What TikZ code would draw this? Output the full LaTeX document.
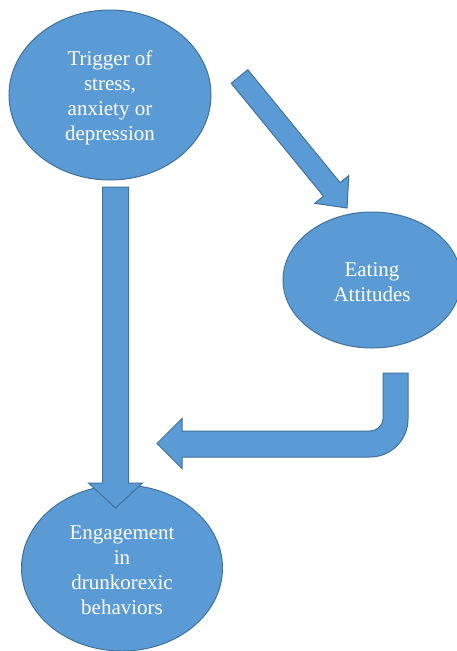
\documentclass[tikz,border=0pt]{standalone}
\usepackage{fontspec}
\setmainfont{Liberation Serif}
\usetikzlibrary{shapes.geometric,calc}
\definecolor{boxfill}{HTML}{5B9BD5}
\definecolor{boxline}{HTML}{41719C}
\tikzset{
  bubble/.style={ellipse, fill=boxfill, draw=boxline, line width=1pt, inner sep=0pt},
  bubbletext/.style={text=white, align=center, inner sep=0pt, yshift=-2.5pt,
    font=\fontsize{21}{25}\selectfont},
  blockarr/.style={fill=boxfill, draw=boxline, line width=1pt, line join=miter}
}
\newcommand\myblockarrow[5]{% start, tip, shaft half width, head half width, head length
  \coordinate (ba-base) at ($(#2)!#5!(#1)$);
  \draw[blockarr] ($(#1)!#3!90:(#2)$) -- ($(ba-base)!#3!90:(#2)$) -- ($(ba-base)!#4!90:(#2)$)
    -- (#2) -- ($(ba-base)!#4!-90:(#2)$) -- ($(ba-base)!#3!-90:(#2)$) -- ($(#1)!#3!-90:(#2)$) -- cycle;
}
\begin{document}
\begin{tikzpicture}[x=1pt,y=-1pt]
\useasboundingbox (0,0) rectangle (457,651);
\clip (0,0) rectangle (457,651);
\node[bubble, minimum width=202pt, minimum height=170pt,
  label={[bubbletext]center:{Trigger of\\stress,\\anxiety or\\depression}}] (trig) at (110,95) {};
\node[bubble, minimum width=178pt, minimum height=136pt,
  label={[bubbletext]center:{Eating\\Attitudes}}] (eat) at (372,280) {};
\node[bubble, minimum width=201pt, minimum height=166pt,
  label={[bubbletext]center:{Engagement\\in\\drunkorexic\\behaviors}}] (eng) at (122,568) {};
% diagonal arrow
\coordinate (d1) at (239.5,76.5);
\coordinate (d2) at (347,208);
\myblockarrow{d1}{d2}{10.7pt}{22pt}{24pt}
% vertical arrow
\coordinate (v1) at (115.5,187);
\coordinate (v2) at (115.5,508);
\myblockarrow{v1}{v2}{13pt}{27pt}{25pt}
% U-turn arrow
\coordinate (u1) at (383,373);
\coordinate (u2) at (408,373);
\coordinate (ut) at (157,443.5);
\draw[blockarr] (u1) -- (u2) -- (408,419) .. controls (408,440) and (391,457) .. (370,457)
  -- (182,457) -- (182,468.5) -- (ut) -- (182,418.5) -- (182,431) -- (370,431)
  .. controls (376.6,431) and (383,425.6) .. (383,419) -- cycle;
\end{tikzpicture}
\end{document}
